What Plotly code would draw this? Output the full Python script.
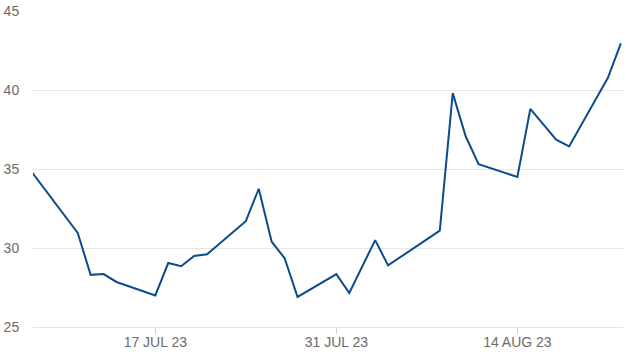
import plotly.graph_objects as go

dates = ["2023-07-07", "2023-07-10", "2023-07-11", "2023-07-12", "2023-07-13", "2023-07-14",
         "2023-07-17", "2023-07-18", "2023-07-19", "2023-07-20", "2023-07-21",
         "2023-07-24", "2023-07-25", "2023-07-26", "2023-07-27", "2023-07-28",
         "2023-07-31", "2023-08-01", "2023-08-03", "2023-08-04",
         "2023-08-08", "2023-08-09", "2023-08-10", "2023-08-11",
         "2023-08-14", "2023-08-15", "2023-08-17", "2023-08-18",
         "2023-08-21", "2023-08-22"]
values = [35.3, 32.0, 30.95, 28.3, 28.35, 27.85,
          27.0, 29.05, 28.85, 29.5, 29.6,
          31.7, 33.75, 30.4, 29.35, 26.9,
          28.35, 27.15, 30.5, 28.9,
          31.1, 39.8, 37.07, 35.3,
          34.5, 38.8, 36.86, 36.43,
          40.77, 42.95]

tick_dates = ["2023-07-17", "2023-07-31", "2023-08-14"]
tick_labels = ["17 JUL 23", "31 JUL 23", "14 AUG 23"]
y_ticks = [25, 30, 35, 40, 45]

fig = go.Figure(go.Scatter(
    x=dates, y=values, mode="lines",
    line=dict(color="#0d4c8b", width=2),
    hoverinfo="skip",
))

fig.update_layout(
    width=626, height=361,
    margin=dict(l=33, r=3, t=11, b=34),
    paper_bgcolor="white", plot_bgcolor="white",
    showlegend=False,
    font=dict(family="Liberation Sans, Arial, sans-serif", size=14, color="#6b6b6b"),
)
fig.update_xaxes(
    range=["2023-07-07 13:00", "2023-08-22 04:00"],
    tickvals=tick_dates, ticktext=tick_labels,
    showgrid=False, zeroline=False,
    showline=True, linecolor="#e3e3e3", linewidth=1,
    ticks="outside", ticklen=6, tickcolor="#d0d0d0", tickwidth=1,
    ticklabelstandoff=-4,
)
fig.update_yaxes(
    range=[25, 45], tickvals=y_ticks,
    showgrid=True, gridcolor="#e6e6e6", gridwidth=1,
    zeroline=False, showline=False,
    ticks="outside", ticklen=10, tickcolor="rgba(0,0,0,0)",
)

fig.write_html("out.html")
